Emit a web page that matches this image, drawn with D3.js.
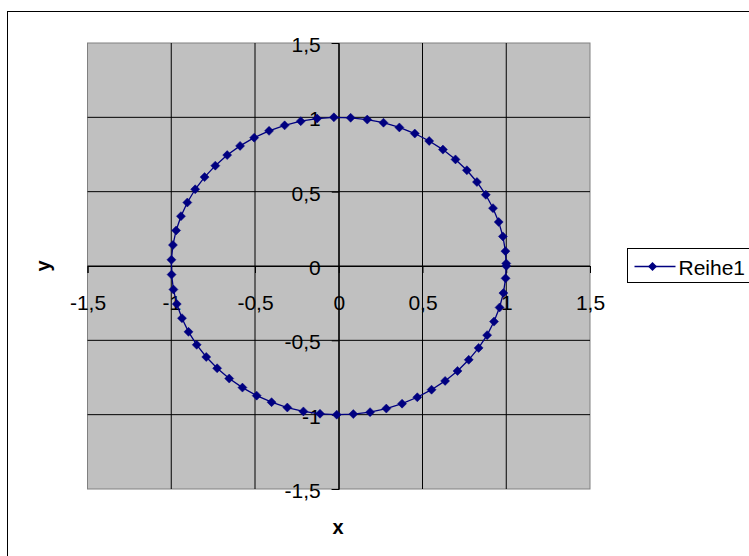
<!DOCTYPE html>
<html>
<head>
<meta charset="utf-8">
<script src="https://cdn.jsdelivr.net/npm/d3@7"></script>
<style>
    body { margin: 0; background: #ffffff; }
    text { font-family: Arial, "Liberation Sans", sans-serif; }
</style>
</head>
<body>
<div id="chart"></div>
<script>
// Series "Reihe1" (x, y)
const xValues = [1.000, 0.995, 0.980, 0.955, 0.921, 0.878, 0.825, 0.765, 0.697, 0.622,
    0.540, 0.454, 0.362, 0.267, 0.170, 0.071, -0.029, -0.129, -0.227, -0.323,
    -0.416, -0.505, -0.589, -0.666, -0.737, -0.801, -0.857, -0.904, -0.942, -0.971,
    -0.990, -0.999, -0.998, -0.987, -0.967, -0.936, -0.897, -0.848, -0.791, -0.726,
    -0.654, -0.575, -0.490, -0.401, -0.307, -0.211, -0.112, -0.012, 0.087, 0.187,
    0.284, 0.378, 0.469, 0.554, 0.635, 0.709, 0.776, 0.835, 0.886, 0.927,
    0.960, 0.983, 0.996, 1.000];
const yValues = [0.000, 0.100, 0.199, 0.296, 0.389, 0.479, 0.565, 0.644, 0.717, 0.783,
    0.841, 0.891, 0.932, 0.964, 0.985, 0.997, 1.000, 0.992, 0.974, 0.946,
    0.909, 0.863, 0.808, 0.746, 0.675, 0.598, 0.516, 0.427, 0.335, 0.239,
    0.141, 0.042, -0.058, -0.158, -0.256, -0.351, -0.443, -0.530, -0.612, -0.688,
    -0.757, -0.818, -0.872, -0.916, -0.952, -0.978, -0.994, -1.000, -0.996, -0.983,
    -0.959, -0.926, -0.883, -0.832, -0.773, -0.706, -0.631, -0.551, -0.465, -0.374,
    -0.279, -0.182, -0.083, 0.017];
const seriesName = "Reihe1";
const tickValues = [-1.5, -1, -0.5, 0, 0.5, 1, 1.5];
const xTitle = "x";
const yTitle = "y";

class CircleChart {
    constructor(parentElement) {
        let vis = this;
        vis.parentElement = parentElement;
        vis.data = xValues.map((x, i) => ({ x: x, y: yValues[i] }));

        // plot area inside the 749x556 frame
        vis.margin = { top: 43, left: 87.5 };
        vis.width = 502.5;
        vis.height = 446;
        vis.color = "#000080";
        vis.fmt = v => String(v).replace(".", ",");

        vis.initVis();
    }

    initVis() {
        let vis = this;

        vis.svg = d3.select(`#${vis.parentElement}`)
            .append("svg")
            .attr("width", 749)
            .attr("height", 556);

        // outer chart border (runs past the window on right/bottom)
        vis.svg.append("rect")
            .attr("x", 7.5).attr("y", 11.5)
            .attr("width", 800).attr("height", 600)
            .attr("fill", "#ffffff")
            .attr("stroke", "#000000")
            .attr("stroke-width", 1);

        vis.g = vis.svg.append("g")
            .attr("transform", `translate(${vis.margin.left},${vis.margin.top})`);

        vis.x = d3.scaleLinear().domain([-1.5, 1.5]).range([0, vis.width]);
        vis.y = d3.scaleLinear().domain([-1.5, 1.5]).range([vis.height, 0]);

        vis.drawPlotArea();
        vis.drawAxes();
        vis.drawSeries();
        vis.drawLegend();
    }

    drawPlotArea() {
        let vis = this;

        vis.g.append("rect")
            .attr("width", vis.width)
            .attr("height", vis.height)
            .attr("fill", "#c0c0c0")
            .attr("stroke", "#808080")
            .attr("stroke-width", 1);

        // gridlines
        vis.g.selectAll(".grid-x")
            .data(tickValues.filter(t => Math.abs(t) < 1.5))
            .enter().append("line")
            .attr("class", "grid-x")
            .attr("x1", d => vis.x(d)).attr("x2", d => vis.x(d))
            .attr("y1", 0).attr("y2", vis.height)
            .attr("stroke", "#000000")
            .attr("stroke-width", 1);

        vis.g.selectAll(".grid-y")
            .data(tickValues.filter(t => Math.abs(t) < 1.5))
            .enter().append("line")
            .attr("class", "grid-y")
            .attr("x1", 0).attr("x2", vis.width)
            .attr("y1", d => vis.y(d)).attr("y2", d => vis.y(d))
            .attr("stroke", "#000000")
            .attr("stroke-width", 1);
    }

    drawAxes() {
        let vis = this;

        // x axis crosses at y = 0
        vis.xAxis = d3.axisBottom(vis.x)
            .tickValues(tickValues)
            .tickSize(7)
            .tickPadding(22)
            .tickFormat(vis.fmt);

        vis.g.append("g")
            .attr("class", "x-axis")
            .attr("transform", `translate(0,${vis.y(0)})`)
            .call(vis.xAxis);

        // y axis crosses at x = 0
        vis.yAxis = d3.axisLeft(vis.y)
            .tickValues(tickValues)
            .tickSize(7)
            .tickPadding(11)
            .tickFormat(vis.fmt);

        vis.g.append("g")
            .attr("class", "y-axis")
            .attr("transform", `translate(${vis.x(0)},0)`)
            .call(vis.yAxis);

        vis.g.selectAll(".x-axis path, .y-axis path, .tick line")
            .attr("stroke", "#000000");

        vis.g.selectAll(".tick text")
            .attr("fill", "#000000")
            .style("font-size", "21px");

        vis.g.selectAll(".y-axis .tick text").attr("dy", "0.4em");

        // axis titles
        vis.svg.append("text")
            .attr("x", 338)
            .attr("y", 534)
            .attr("text-anchor", "middle")
            .style("font-size", "20px")
            .style("font-weight", "bold")
            .text(xTitle);

        vis.svg.append("text")
            .attr("transform", "translate(50,266) rotate(-90)")
            .attr("text-anchor", "middle")
            .style("font-size", "20px")
            .style("font-weight", "bold")
            .text(yTitle);
    }

    drawSeries() {
        let vis = this;

        const line = d3.line()
            .x(d => vis.x(d.x))
            .y(d => vis.y(d.y));

        vis.g.append("path")
            .datum(vis.data)
            .attr("fill", "none")
            .attr("stroke", vis.color)
            .attr("stroke-width", 1.3)
            .attr("d", line);

        vis.g.selectAll(".marker")
            .data(vis.data)
            .enter().append("path")
            .attr("class", "marker")
            .attr("d", "M0,-4.5L4.5,0L0,4.5L-4.5,0Z")
            .attr("transform", d => `translate(${vis.x(d.x)},${vis.y(d.y)})`)
            .attr("fill", vis.color)
            .attr("stroke", vis.color)
            .attr("stroke-width", 0.5);
    }

    drawLegend() {
        let vis = this;

        vis.legend = vis.svg.append("g")
            .attr("class", "legend")
            .attr("transform", "translate(627.5,248.5)");

        vis.legend.append("rect")
            .attr("width", 140)
            .attr("height", 34)
            .attr("fill", "#ffffff")
            .attr("stroke", "#000000");

        vis.legend.append("line")
            .attr("x1", 7).attr("x2", 48)
            .attr("y1", 18).attr("y2", 18)
            .attr("stroke", vis.color)
            .attr("stroke-width", 1.3);

        vis.legend.append("path")
            .attr("d", "M0,-4.5L4.5,0L0,4.5L-4.5,0Z")
            .attr("transform", "translate(25,18)")
            .attr("fill", vis.color);

        vis.legend.append("text")
            .attr("x", 51)
            .attr("y", 26)
            .style("font-size", "21px")
            .text(seriesName);
    }
}

new CircleChart("chart");
</script>
</body>
</html>
